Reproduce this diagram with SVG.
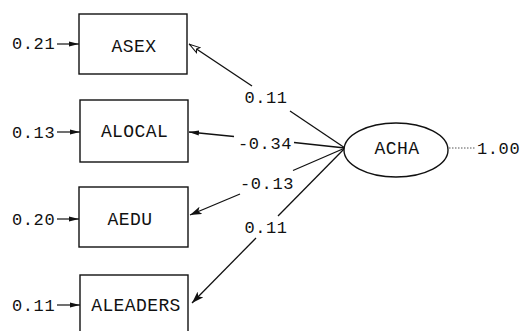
<svg xmlns="http://www.w3.org/2000/svg" width="520" height="331" viewBox="0 0 520 331">
  <style>
    .box { fill: #fff; stroke: #111; stroke-width: 1.4; }
    .lat { fill: #fff; stroke: #111; stroke-width: 1.4; }
    .lbl { font-family: "Liberation Mono", "DejaVu Sans Mono", monospace; font-size: 18px; fill: #111; letter-spacing: 0.4px; }
    .num { font-family: "Liberation Mono", "DejaVu Sans Mono", monospace; font-size: 17px; fill: #111; letter-spacing: 0.6px; }
    .path { stroke: #111; stroke-width: 1.3; fill: none; }
    .err { stroke: #111; stroke-width: 1.2; fill: none; }
  </style>
  <defs>
    <marker id="arrow" viewBox="0 0 12 8" refX="12" refY="4" markerWidth="12" markerHeight="8" markerUnits="userSpaceOnUse" orient="auto">
      <path d="M0,0 L12,4 L0,8 L3,4 Z" fill="#111"/>
    </marker>
    <marker id="arrowOpen" viewBox="0 0 12 8" refX="12" refY="4" markerWidth="12" markerHeight="8" markerUnits="userSpaceOnUse" orient="auto">
      <path d="M1,1 L11.5,4 L1,7 L3,4 Z" fill="#fff" stroke="#111" stroke-width="1"/>
    </marker>
    <marker id="arrowSmall" viewBox="0 0 10 6" refX="10" refY="3" markerWidth="10" markerHeight="6" markerUnits="userSpaceOnUse" orient="auto">
      <path d="M0,0.5 L10,3 L0,5.5 Z" fill="#111"/>
    </marker>
  </defs>

  <rect width="520" height="331" fill="#fff"/>

  <!-- structural paths from the latent variable and error terms -->
  <g id="connectors">
    <!-- ACHA -> ASEX -->
    <line class="path" x1="252" y1="86" x2="189" y2="44" marker-end="url(#arrowOpen)"/>
    <line class="path" x1="345" y1="148" x2="290" y2="111"/>
    <!-- ACHA -> ALOCAL -->
    <line class="path" x1="234" y1="136.5" x2="189" y2="132" marker-end="url(#arrowSmall)"/>
    <line class="path" x1="345" y1="148" x2="294" y2="142.5"/>
    <!-- ACHA -> AEDU -->
    <line class="path" x1="240" y1="194" x2="190" y2="215" marker-end="url(#arrow)"/>
    <line class="path" x1="345" y1="148" x2="293" y2="170.5"/>
    <!-- ACHA -> ALEADERS -->
    <line class="path" x1="256" y1="238" x2="192" y2="303" marker-end="url(#arrow)"/>
    <line class="path" x1="345" y1="148" x2="278" y2="216"/>
    <!-- error variances -->
    <line class="err" x1="57" y1="44" x2="79" y2="44" marker-end="url(#arrowSmall)"/>
    <line class="err" x1="57" y1="132" x2="80" y2="132" marker-end="url(#arrowSmall)"/>
    <line class="err" x1="57" y1="219" x2="79" y2="219" marker-end="url(#arrowSmall)"/>
    <line class="err" x1="57" y1="305" x2="80" y2="305" marker-end="url(#arrowSmall)"/>
    <!-- latent variance -->
    <line x1="449" y1="148" x2="475" y2="148" stroke="#555" stroke-width="1" stroke-dasharray="1.5,1.5"/>
  </g>

  <!-- path coefficients -->
  <g id="coefficients">
    <text class="num" x="266" y="103" text-anchor="middle">0.11</text>
    <text class="num" x="265" y="149" text-anchor="middle">-0.34</text>
    <text class="num" x="267" y="189" text-anchor="middle">-0.13</text>
    <text class="num" x="266" y="233" text-anchor="middle">0.11</text>
    <text class="num" x="12" y="49">0.21</text>
    <text class="num" x="12" y="138">0.13</text>
    <text class="num" x="12" y="225">0.20</text>
    <text class="num" x="12" y="311">0.11</text>
    <text class="num" x="477" y="154">1.00</text>
  </g>

  <g id="ASEX">
    <rect class="box" x="79" y="14" width="108" height="60"/>
    <text class="lbl" x="134" y="52" text-anchor="middle">ASEX</text>
  </g>
  <g id="ALOCAL">
    <rect class="box" x="80" y="100" width="108" height="62"/>
    <text class="lbl" x="134.5" y="137" text-anchor="middle">ALOCAL</text>
  </g>
  <g id="AEDU">
    <rect class="box" x="79" y="187" width="109" height="60"/>
    <text class="lbl" x="130" y="225" text-anchor="middle">AEDU</text>
  </g>
  <g id="ALEADERS">
    <rect class="box" x="80" y="275" width="108" height="62"/>
    <text class="lbl" x="136" y="311" text-anchor="middle">ALEADERS</text>
  </g>
  <g id="ACHA">
    <ellipse class="lat" cx="396" cy="150" rx="52" ry="27"/>
    <text class="lbl" x="397" y="154" text-anchor="middle">ACHA</text>
  </g>
</svg>
